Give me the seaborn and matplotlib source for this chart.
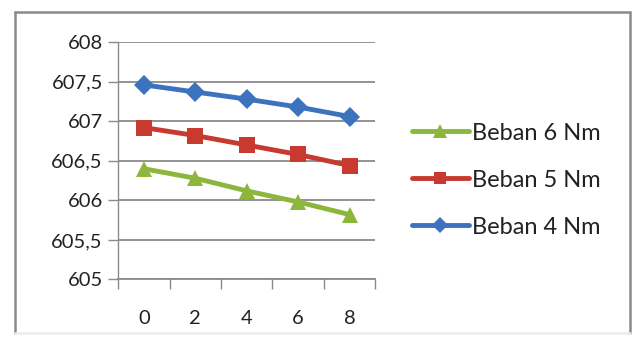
import matplotlib
matplotlib.use("Agg")
import matplotlib.pyplot as plt
import matplotlib.ticker as mticker
from matplotlib.lines import Line2D
import numpy as np
import pandas as pd
import seaborn as sns

# Data
x_labels = ["0", "2", "4", "6", "8"]
beban_6 = [606.40, 606.28, 606.12, 605.98, 605.82]
beban_5 = [606.92, 606.82, 606.70, 606.58, 606.44]
beban_4 = [607.46, 607.37, 607.28, 607.18, 607.06]
series_names = ["Beban 6 Nm", "Beban 5 Nm", "Beban 4 Nm"]
y_ticks = [605, 605.5, 606, 606.5, 607, 607.5, 608]

df = pd.DataFrame({
    "x": x_labels * 3,
    "y": beban_6 + beban_5 + beban_4,
    "series": [series_names[0]] * 5 + [series_names[1]] * 5 + [series_names[2]] * 5,
})

sns.set_style("white")
plt.rcParams["font.family"] = ["Lato", "DejaVu Sans"]

fig = plt.figure(figsize=(6.35, 3.4), dpi=100)
ax = fig.add_axes([0.186, 0.178, 0.405, 0.698])

palette = {"Beban 6 Nm": "#8db63c", "Beban 5 Nm": "#c8392f", "Beban 4 Nm": "#3d72bf"}
markers = {"Beban 6 Nm": "^", "Beban 5 Nm": "s", "Beban 4 Nm": "D"}
sizes = {"Beban 6 Nm": 12, "Beban 5 Nm": 11, "Beban 4 Nm": 10}

for name in series_names:
    sub = df[df["series"] == name]
    sns.lineplot(data=sub, x="x", y="y", ax=ax, color=palette[name],
                 marker=markers[name], markersize=sizes[name], linewidth=3.5,
                 markeredgewidth=0, label=name, sort=False)

ax.set_xlim(-0.5, 4.5)
ax.set_ylim(605, 608)
ax.set_yticks(y_ticks)
ax.yaxis.set_major_formatter(mticker.FuncFormatter(
    lambda v, p: (f"{v:g}").replace(".", ",")))
ax.grid(axis="y", color="#8a8a8a", linewidth=1.3)
ax.set_axisbelow(True)
ax.set_xlabel("")
ax.set_ylabel("")

for s in ["top", "right"]:
    ax.spines[s].set_visible(False)
ax.spines["left"].set_color("#8a8a8a")
ax.spines["bottom"].set_color("#8a8a8a")
ax.spines["left"].set_linewidth(1.0)
ax.spines["bottom"].set_linewidth(1.3)

ax.set_xticks(range(5))
ax.set_xticklabels(x_labels)
ax.set_xticks(np.arange(-0.5, 5, 1.0), minor=True)
ax.tick_params(axis="x", which="major", length=0, pad=22, labelsize=14.5, colors="#222222")
ax.tick_params(axis="x", which="minor", length=7, width=1, color="#8a8a8a", direction="out")
ax.tick_params(axis="y", which="major", length=7, width=1, color="#8a8a8a", direction="out",
               pad=4, labelsize=14.5, labelcolor="#222222")
ax.tick_params(left=True, bottom=True, which="both")

leg = ax.legend(loc="center left", bbox_to_anchor=(0.649, 0.47),
                bbox_transform=fig.transFigure, frameon=False,
                fontsize=17, handlelength=2.4, handletextpad=0.12, labelspacing=1.1,
                borderpad=0, borderaxespad=0, markerscale=0.8)
for t in leg.get_texts():
    t.set_color("#222222")

# outer chart frame: grey on three sides, faint at the bottom
frame_l, frame_r, frame_t, frame_b = 0.024, 0.992, 0.965, 0.021
for xs, ys, c in [([frame_l, frame_l], [frame_b, frame_t], "#8a8a8a"),
                  ([frame_r, frame_r], [frame_b, frame_t], "#8a8a8a"),
                  ([frame_l, frame_r], [frame_t, frame_t], "#8a8a8a"),
                  ([frame_l, frame_r], [frame_b, frame_b], "#ececec")]:
    fig.add_artist(Line2D(xs, ys, transform=fig.transFigure, color=c, linewidth=1.8))

fig.savefig("out.png", dpi=100)
